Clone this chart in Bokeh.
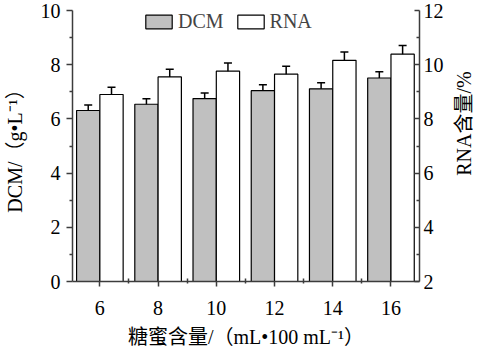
import math
from bokeh.plotting import figure
from bokeh.layouts import row
from bokeh.models import (ColumnDataSource, Range1d, LinearAxis, FixedTicker,
                          Whisker, TeeHead, Legend, LegendItem)
from bokeh.core.properties import value
from bokeh.embed import file_html
from bokeh.resources import INLINE

# ---- data ----
categories = ["6", "8", "10", "12", "14", "16"]
dcm = [6.31, 6.54, 6.75, 7.04, 7.11, 7.51]
dcm_err = [0.20, 0.20, 0.21, 0.22, 0.22, 0.23]
rna = [8.90, 9.55, 9.76, 9.65, 10.16, 10.39]
rna_err = [0.27, 0.28, 0.30, 0.29, 0.31, 0.32]
left_ticks = [0, 2, 4, 6, 8, 10]
right_ticks = [2, 4, 6, 8, 10, 12]
x_label = "糖蜜含量/（mL•100 mL⁻¹）"
y_label = "DCM/（g•L⁻¹）"
y2_label = "RNA含量/%"

FONT = "Liberation Serif, Noto Sans CJK SC"
AX = "#3c3c3c"
H = 350
TOP, BOTTOM = 10, 68

xpos = list(range(1, len(categories) + 1))
bw = 0.4
src = ColumnDataSource(dict(
    x_dcm=[i - bw / 2 for i in xpos],
    x_rna=[i + bw / 2 for i in xpos],
    dcm=dcm, dcm_lo=[v - e for v, e in zip(dcm, dcm_err)], dcm_hi=[v + e for v, e in zip(dcm, dcm_err)],
    rna=rna, rna_lo=[v - e for v, e in zip(rna, rna_err)], rna_hi=[v + e for v, e in zip(rna, rna_err)],
))

p = figure(width=446, height=H, output_backend="svg", toolbar_location=None,
           x_range=Range1d(0.53, 6.49), y_range=Range1d(0, 10),
           min_border_left=67, min_border_right=26, min_border_top=TOP, min_border_bottom=BOTTOM)
p.extra_y_ranges = {"rna": Range1d(2, 12)}
p.outline_line_color = None
p.grid.visible = False
p.background_fill_color = "white"
p.border_fill_color = "white"

r1 = p.vbar(x="x_dcm", top="dcm", bottom=0, width=bw, source=src,
            fill_color="#c0c0c0", line_color="black", line_width=1.2)
r2 = p.vbar(x="x_rna", top="rna", bottom=2, width=bw, source=src, y_range_name="rna",
            fill_color="white", line_color="black", line_width=1.2)

def head():
    return TeeHead(size=8, line_width=1.5, line_color="black")

p.add_layout(Whisker(base="x_dcm", lower="dcm_lo", upper="dcm_hi", source=src,
                     line_width=1.5, line_color="black", upper_head=head(), lower_head=head()))
p.add_layout(Whisker(base="x_rna", lower="rna_lo", upper="rna_hi", source=src, y_range_name="rna",
                     line_width=1.5, line_color="black", upper_head=head(), lower_head=head()))

# x axis
xa = p.xaxis[0]
xa.ticker = FixedTicker(ticks=xpos, minor_ticks=[i + 0.5 for i in [0] + xpos])
xa.major_label_overrides = {i: c for i, c in zip(xpos, categories)}
xa.axis_label = x_label
xa.major_tick_out = 5
xa.major_tick_in = 0
xa.minor_tick_out = 2
xa.minor_tick_in = 3

# left axis
ya = p.yaxis[0]
ya.ticker = FixedTicker(ticks=left_ticks, minor_ticks=[1, 3, 5, 7, 9])
ya.axis_label = y_label
ya.major_tick_out = 6
ya.major_tick_in = 0
ya.minor_tick_out = 3
ya.minor_tick_in = 0

# right axis (its title is drawn in the narrow panel beside it)
ra = LinearAxis(y_range_name="rna")
ra.ticker = FixedTicker(ticks=right_ticks, minor_ticks=[3, 5, 7, 9, 11])
ra.major_tick_in = 5
ra.major_tick_out = 0
ra.minor_tick_in = 3
ra.minor_tick_out = 0
p.add_layout(ra, "right")

for ax in [xa, ya, ra]:
    ax.axis_line_color = AX
    ax.axis_line_width = 1.5
    ax.major_tick_line_color = AX
    ax.major_tick_line_width = 1.5
    ax.minor_tick_line_color = AX
    ax.minor_tick_line_width = 1.5
    ax.major_label_text_font = FONT
    ax.major_label_text_font_size = "20px"
    ax.major_label_text_color = "black"
    ax.axis_label_text_font = FONT
    ax.axis_label_text_font_size = "20px"
    ax.axis_label_text_font_style = "normal"
    ax.axis_label_text_color = "black"

ya.major_label_standoff = 6
ra.major_label_standoff = 4
xa.major_label_standoff = 14
xa.axis_label_standoff = 8
ya.axis_label_standoff = 12

legend = Legend(items=[LegendItem(label="DCM", renderers=[r1]),
                       LegendItem(label="RNA", renderers=[r2])],
                orientation="horizontal", location=(70, 248),
                label_text_font=FONT, label_text_font_size="20px",
                glyph_width=33, glyph_height=17, label_standoff=3, spacing=10,
                padding=0, margin=0, border_line_color=None, background_fill_alpha=0,
                label_height=17)
p.add_layout(legend)

# narrow panel holding the right axis title, reading bottom-to-top
q = figure(width=29, height=H, output_backend="svg", toolbar_location=None,
           x_range=Range1d(0, 1), y_range=Range1d(0, 1), min_border=0)
q.axis.visible = False
q.grid.visible = False
q.outline_line_color = None
q.border_fill_color = "white"
mid = (H - BOTTOM - TOP) / 2 + BOTTOM
q.text(x=[0.62], y=[mid / H], text=[y2_label], angle=math.pi / 2,
       text_align="center", text_baseline="middle", text_font=value(FONT),
       text_font_size="20px", text_color="black")

layout = row(p, q, spacing=0)
open("out.html", "w").write(file_html(layout, INLINE))
